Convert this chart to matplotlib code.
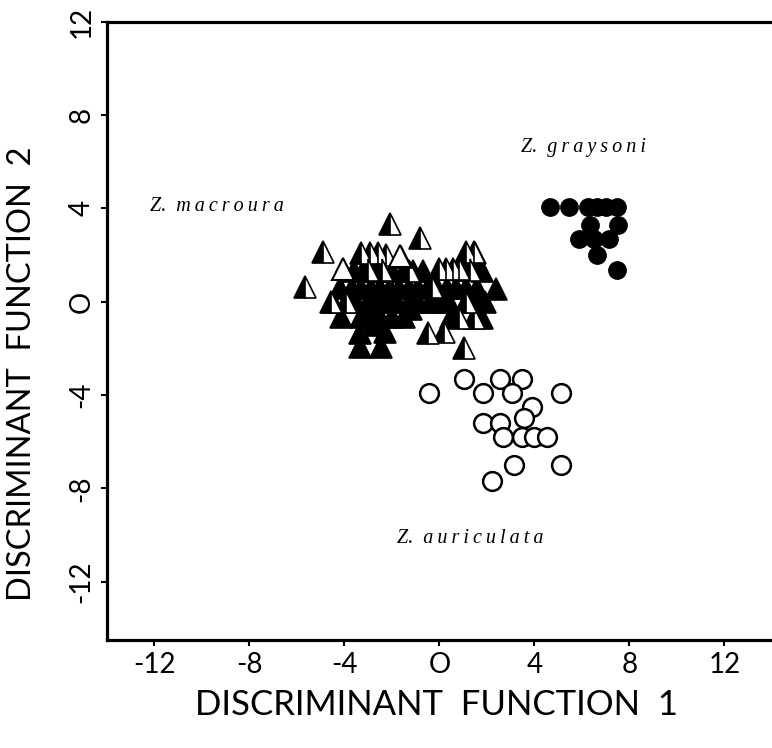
import matplotlib
matplotlib.use("Agg")
import matplotlib.pyplot as plt

# Z. auriculata (open circles)
auri_x = [-0.46, 1.05, 1.85, 2.56, 3.49, 3.07, 5.13, 3.91, 1.85, 2.56, 3.57,
          2.69, 3.49, 3.99, 4.54, 3.15, 5.13, 2.23]
auri_y = [-3.9, -3.3, -3.9, -3.3, -3.3, -3.9, -3.9, -4.5, -5.2, -5.2, -5.0,
          -5.8, -5.8, -5.8, -5.8, -7.0, -7.0, -7.7]

# Z. graysoni (filled circles)
gray_x = [4.65, 5.46, 6.27, 6.65, 7.03, 7.49, 6.33, 7.53, 5.88, 6.51, 7.14, 6.65, 7.49]
gray_y = [4.05, 4.05, 4.05, 4.05, 4.05, 4.05, 3.3, 3.3, 2.7, 2.7, 2.7, 2.0, 1.35]

# Z. macroura - solid triangles
mac_black_x = [-4.2, -3.7, -3.3, -2.9, -2.5, -2.1, -1.7, -1.3, -0.9, -0.5, -0.1, 0.3, 0.7, 1.1, 1.6, 2.4,
               -3.6, -3.2, -2.8, -2.4, -2.0, -1.5, -1.1, -0.7, 1.0, 1.5, 1.8,
               -4.5, -3.5, -3.0, -2.6, -2.2, -1.8, -1.3, -0.9, -0.4, 0.0, 0.4, 1.5, 1.9,
               -4.13, -3.3, -2.9, -2.5, -2.0, -1.5, 0.5, 1.8,
               -3.36, -2.31, -3.36, -2.45, 1.5, -2.8, -1.2]
mac_black_y = [0.6, 0.6, 0.6, 0.6, 0.6, 0.6, 0.6, 0.6, 0.6, 0.6, 0.6, 0.6, 0.6, 0.6, 0.6, 0.55,
               1.3, 1.3, 1.3, 1.3, 1.3, 1.3, 1.3, 1.3, 1.35, 1.35, 1.3,
               0.0, 0.0, 0.0, 0.0, 0.0, 0.0, 0.0, 0.0, 0.0, 0.0, 0.0, 0.0, 0.0,
               -0.65, -0.65, -0.65, -0.65, -0.65, -0.65, -0.65, -0.7,
               -1.35, -1.3, -1.95, -1.95, 2.1, -1.0, -0.3]

# Z. macroura - half filled triangles
mac_half_x = [-2.1, -0.84, -4.9, -5.67, -3.29, -2.94, -2.59, -2.24, 1.12, 1.47,
              0.0, 0.29, 0.55, 0.84, -4.55, -3.92, -0.49, 0.21, 1.05, 0.84, 1.47,
              -3.0, -2.4, -1.3, 1.3, -1.6, 1.1, -0.3]
mac_half_y = [3.35, 2.75, 2.15, 0.62, 2.09, 2.09, 2.09, 2.0, 2.12, 2.12,
              1.4, 1.4, 1.4, 1.4, 0.0, 0.0, -1.35, -1.3, -2.0, -0.7, -0.7,
              1.35, 1.35, 1.3, 1.35, 1.9, 0.0, 0.65]

# Z. macroura - open triangles
mac_open_x = [-4.06, -1.68]
mac_open_y = [1.41, 1.97]

ticks = [-12, -8, -4, 0, 4, 8, 12]
tick_labels = ['-12', '-8', '-4', 'O', '4', '8', '12']

fig = plt.figure(figsize=(7.72, 7.48), dpi=100)
ax = fig.add_axes([0.1386, 0.1444, 0.8614, 0.8266])

ax.plot(mac_black_x, mac_black_y, '^', ms=16, color='black', mec='black', mew=1.2)
ax.plot(mac_half_x, mac_half_y, '^', ms=16, color='black', fillstyle='left',
        markerfacecoloralt='white', mec='black', mew=1.2)
ax.plot(mac_open_x, mac_open_y, '^', ms=16, mfc='white', mec='black', mew=1.5)

ax.plot(auri_x, auri_y, 'o', ms=13.5, mfc='white', mec='black', mew=1.8)
ax.plot(gray_x, gray_y, 'o', ms=12.5, mfc='black', mec='black')

ax.set_xlim(-14, 14)
ax.set_ylim(-14.5, 12)

font = {'family': 'Lato', 'color': 'black'}
ax.set_xticks(ticks, tick_labels, fontsize=20, **font)
ax.set_yticks(ticks, tick_labels, fontsize=20, rotation=90, va='center', **font)
ax.tick_params(length=4, width=1.5, direction='out', pad=5)

for s in ['left', 'bottom', 'top']:
    ax.spines[s].set_linewidth(2.3)
ax.spines['right'].set_visible(False)

fig.text(0.565, 0.058, 'DISCRIMINANT  FUNCTION  1', ha='center', va='center',
         fontsize=25, **font)
fig.text(0.029, 0.5, 'DISCRIMINANT  FUNCTION  2', ha='center', va='center',
         rotation=90, fontsize=23.5, **font)

t = '\u2009'
sp = {'family': 'Liberation Serif', 'style': 'italic', 'fontsize': 14.5}
ax.text(-9.37, 4.06, 'Z.  ' + t.join('macroura'), ha='center', va='center', **sp)
ax.text(6.05, 6.62, 'Z.  ' + t.join('graysoni'), ha='center', va='center', **sp)
ax.text(1.29, -10.13, 'Z.  ' + t.join('auriculata'), ha='center', va='center', **sp)

fig.savefig('out.png', dpi=100)
